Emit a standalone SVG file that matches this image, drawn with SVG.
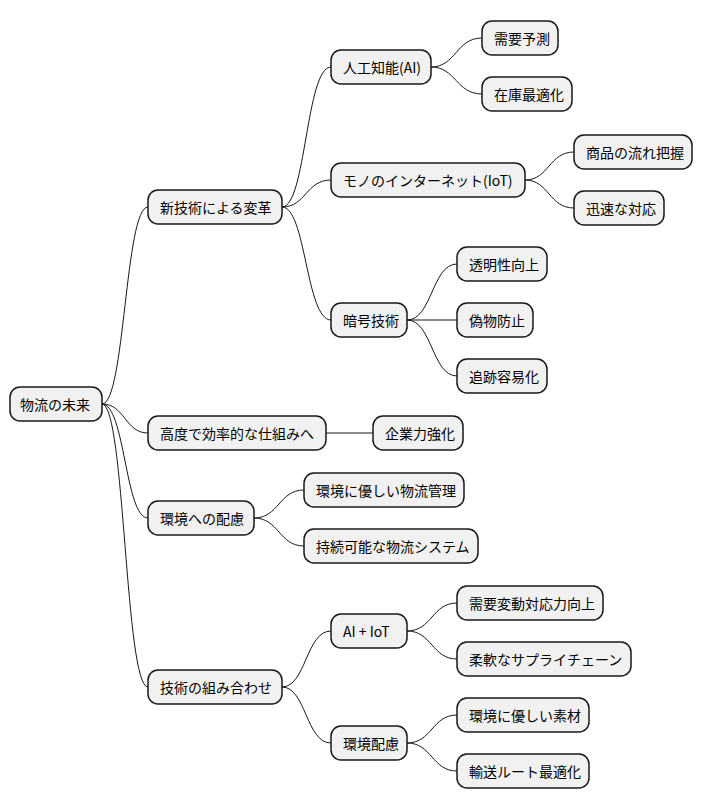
<svg xmlns="http://www.w3.org/2000/svg" width="703" height="809" viewBox="0 0 703 809">
<style>
.n rect{fill:#F1F1F1;stroke:#181818;stroke-width:1.5}
.n text{font-family:"Noto Sans CJK JP","Liberation Sans",sans-serif;font-size:14px;fill:#000;dominant-baseline:central}
#c path{fill:none;stroke:#181818;stroke-width:1}
</style>
<rect width="703" height="809" fill="#fff"/>
<g id="c">
<path d="M102,404 C125,404 125,207 148,207"/>
<path d="M102,404 C125,404 125,433 148,433"/>
<path d="M102,404 C125,404 125,518 148,518"/>
<path d="M102,404 C125,404 125,687 148,687"/>
<path d="M282,207 C306,207 306,67 331,67"/>
<path d="M282,207 C306,207 306,180 331,180"/>
<path d="M282,207 C306,207 306,320 331,320"/>
<path d="M431,67 C456,67 456,38 482,38"/>
<path d="M431,67 C456,67 456,94 482,94"/>
<path d="M525,180 C549,180 549,152 574,152"/>
<path d="M525,180 C549,180 549,208 574,208"/>
<path d="M407,320 C432,320 432,264 457,264"/>
<path d="M407,320 L457,320"/>
<path d="M407,320 C432,320 432,376 457,376"/>
<path d="M326,433 L373,433"/>
<path d="M254,518 C279,518 279,490 304,490"/>
<path d="M254,518 C279,518 279,546 304,546"/>
<path d="M282,687 C306,687 306,631 331,631"/>
<path d="M282,687 C306,687 306,743 331,743"/>
<path d="M407,631 C432,631 432,603 457,603"/>
<path d="M407,631 C432,631 432,659 457,659"/>
<path d="M407,743 C432,743 432,715 457,715"/>
<path d="M407,743 C432,743 432,771 457,771"/>
</g>
<g id="n0" class="n"><rect x="10" y="387" width="92" height="34" rx="10"/><text x="20" y="404">物流の未来</text></g>
<g id="n1" class="n"><rect x="148" y="190" width="134" height="34" rx="10"/><text x="160" y="207">新技術による変革</text></g>
<g id="n2" class="n"><rect x="148" y="416" width="178" height="34" rx="10"/><text x="160" y="433">高度で効率的な仕組みへ</text></g>
<g id="n3" class="n"><rect x="148" y="501" width="106" height="34" rx="10"/><text x="160" y="518">環境への配慮</text></g>
<g id="n4" class="n"><rect x="148" y="670" width="134" height="34" rx="10"/><text x="160" y="687">技術の組み合わせ</text></g>
<g id="n5" class="n"><rect x="331" y="50" width="100" height="34" rx="10"/><text x="343" y="67">人工知能(AI)</text></g>
<g id="n6" class="n"><rect x="482" y="21" width="76" height="34" rx="10"/><text x="494" y="38">需要予測</text></g>
<g id="n7" class="n"><rect x="482" y="77" width="90" height="34" rx="10"/><text x="494" y="94">在庫最適化</text></g>
<g id="n8" class="n"><rect x="331" y="163" width="194" height="34" rx="10"/><text x="343" y="180">モノのインターネット(IoT)</text></g>
<g id="n9" class="n"><rect x="574" y="135" width="118" height="34" rx="10"/><text x="586" y="152">商品の流れ把握</text></g>
<g id="n10" class="n"><rect x="574" y="191" width="90" height="34" rx="10"/><text x="586" y="208">迅速な対応</text></g>
<g id="n11" class="n"><rect x="331" y="303" width="76" height="34" rx="10"/><text x="343" y="320">暗号技術</text></g>
<g id="n12" class="n"><rect x="457" y="247" width="90" height="34" rx="10"/><text x="469" y="264">透明性向上</text></g>
<g id="n13" class="n"><rect x="457" y="303" width="76" height="34" rx="10"/><text x="469" y="320">偽物防止</text></g>
<g id="n14" class="n"><rect x="457" y="359" width="90" height="34" rx="10"/><text x="469" y="376">追跡容易化</text></g>
<g id="n15" class="n"><rect x="373" y="416" width="90" height="34" rx="10"/><text x="385" y="433">企業力強化</text></g>
<g id="n16" class="n"><rect x="304" y="473" width="160" height="34" rx="10"/><text x="316" y="490">環境に優しい物流管理</text></g>
<g id="n17" class="n"><rect x="304" y="529" width="174" height="34" rx="10"/><text x="316" y="546">持続可能な物流システム</text></g>
<g id="n18" class="n"><rect x="331" y="614" width="76" height="34" rx="10"/><text x="343" y="631">AI + IoT</text></g>
<g id="n19" class="n"><rect x="457" y="586" width="146" height="34" rx="10"/><text x="469" y="603">需要変動対応力向上</text></g>
<g id="n20" class="n"><rect x="457" y="642" width="174" height="34" rx="10"/><text x="469" y="659">柔軟なサプライチェーン</text></g>
<g id="n21" class="n"><rect x="331" y="726" width="76" height="34" rx="10"/><text x="343" y="743">環境配慮</text></g>
<g id="n22" class="n"><rect x="457" y="698" width="132" height="34" rx="10"/><text x="469" y="715">環境に優しい素材</text></g>
<g id="n23" class="n"><rect x="457" y="754" width="132" height="34" rx="10"/><text x="469" y="771">輸送ルート最適化</text></g>
</svg>
